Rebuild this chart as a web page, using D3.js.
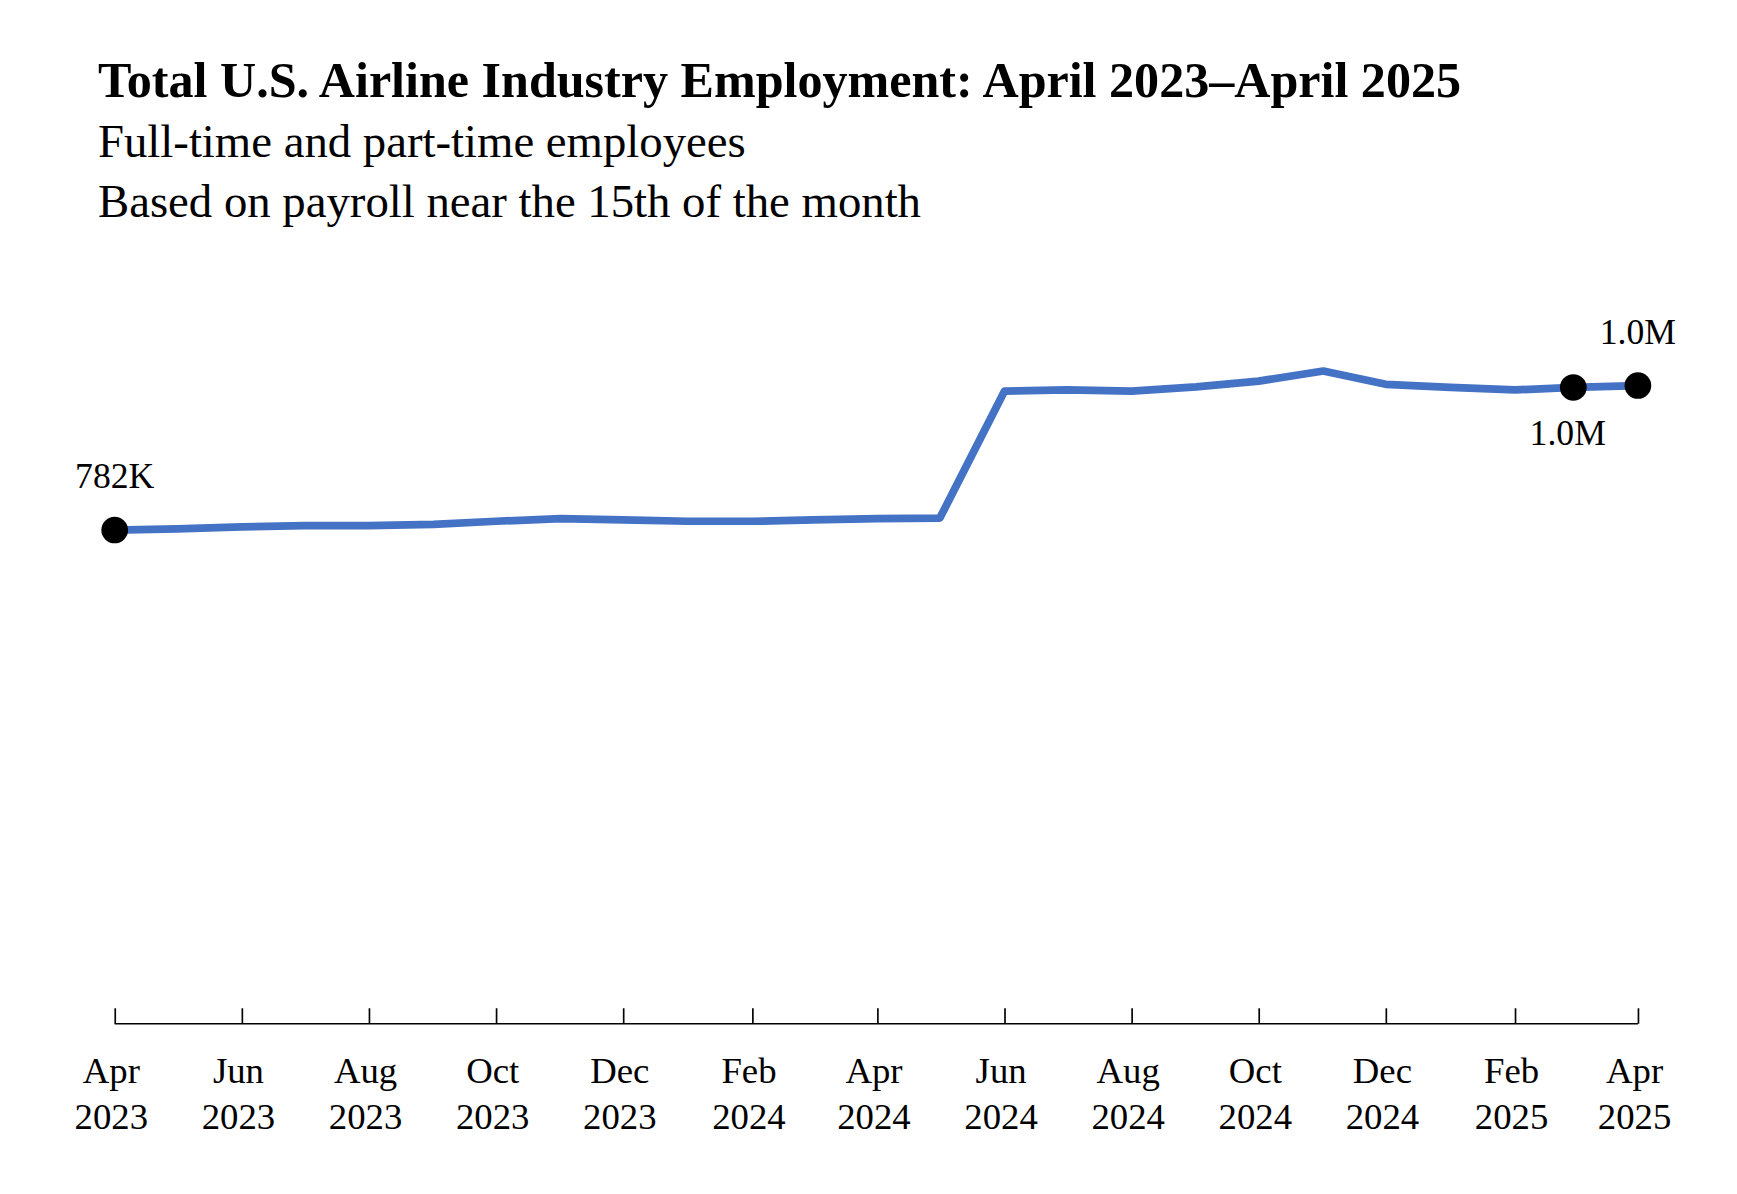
<!DOCTYPE html><html><head><meta charset="utf-8"><script src="https://cdn.jsdelivr.net/npm/d3@7"></script>
<style>body{margin:0;background:#fff}svg{display:block}</style></head><body><svg id="c"></svg><script>
const months=["2023-04","2023-05","2023-06","2023-07","2023-08","2023-09","2023-10","2023-11","2023-12","2024-01","2024-02","2024-03","2024-04","2024-05","2024-06","2024-07","2024-08","2024-09","2024-10","2024-11","2024-12","2025-01","2025-02","2025-03","2025-04"];
const employment=[782,784,787,789,789,791,796,800,798,796,796,798,800,801,1002,1004,1002,1009,1018,1034,1013,1008,1004,1008,1011];
const tickMonths=["2023-04","2023-06","2023-08","2023-10","2023-12","2024-02","2024-04","2024-06","2024-08","2024-10","2024-12","2025-02","2025-04"];
const labels=[{i:0,t:"782K",pos:"above"},{i:23,t:"1.0M",pos:"below"},{i:24,t:"1.0M",pos:"above"}];
const W=1560,H=1080;
const svg=d3.select("#c").attr("width",1737).attr("height",1194).attr("viewBox",`0 0 ${W} ${H}`).attr("preserveAspectRatio","none");
const font="'Liberation Serif','Times New Roman',serif";
const p=d3.timeParse("%Y-%m");
const data=months.map((m,i)=>({d:p(m),v:employment[i]}));
const x=d3.scaleTime().domain([p(months[0]),p(months[24])]).range([103,1471]);
const y=d3.scaleLinear().domain([0,1000]).range([926,355]);
svg.append("text").attr("x",88).attr("y",88).attr("font-family",font).attr("font-weight","bold").attr("font-size",45).text("Total U.S. Airline Industry Employment: April 2023–April 2025");
svg.append("text").attr("x",88).attr("y",142).attr("font-family",font).attr("font-size",42).text("Full-time and part-time employees");
svg.append("text").attr("x",88).attr("y",196).attr("font-family",font).attr("font-size",42).text("Based on payroll near the 15th of the month");
const fmt=d3.timeFormat("%b");const fy=d3.timeFormat("%Y");
const ax=svg.append("g").attr("transform","translate(0,926)").call(d3.axisTop(x).tickValues(tickMonths.map(p)).tickSize(14).tickFormat(""));
ax.select(".domain").attr("d",`M${x.range()[0]},0H${x.range()[1]}`).attr("stroke","#000").attr("stroke-width",1.5);
ax.selectAll(".tick line").attr("stroke","#000").attr("stroke-width",1.5);
const tl=svg.append("g");
tickMonths.forEach(m=>{const cx=x(p(m))-3;const t=tl.append("text").attr("text-anchor","middle").attr("font-family",font).attr("font-size",33);
t.append("tspan").attr("x",cx).attr("y",980).text(fmt(p(m)));t.append("tspan").attr("x",cx).attr("y",1021).text(fy(p(m)));});
svg.append("path").datum(data).attr("fill","none").attr("stroke","#4472C4").attr("stroke-width",7).attr("stroke-linejoin","round")
 .attr("d",d3.line().x(d=>x(d.d)).y(d=>y(d.v)));
labels.forEach(l=>{const d=data[l.i];
 svg.append("circle").attr("cx",x(d.d)).attr("cy",y(d.v)).attr("r",12).attr("fill","#000");
 svg.append("text").attr("x",x(d.d)-(l.i==23?5:0)).attr("y",l.pos=="above"?y(d.v)-38:y(d.v)+52).attr("text-anchor","middle").attr("font-family",font).attr("font-size",32).text(l.t);});
</script></body></html>
